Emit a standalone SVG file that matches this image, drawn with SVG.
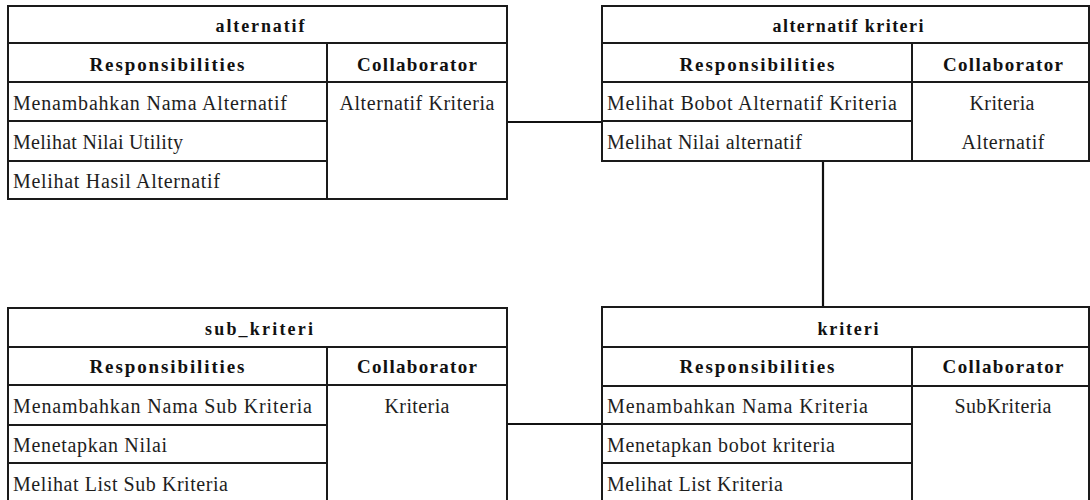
<svg xmlns="http://www.w3.org/2000/svg" width="1090" height="500" viewBox="0 0 1090 500">
<style>
.box{fill:#fff;stroke:#1a1a1a;stroke-width:2}
.ln{stroke:#1a1a1a;stroke-width:2;fill:none}
.conn{stroke:#111;stroke-width:2.2;fill:none}
.t{font-family:"Liberation Serif","Times New Roman",serif;font-size:18px;font-weight:bold;fill:#111;text-anchor:middle}
.h{font-family:"Liberation Serif","Times New Roman",serif;font-size:19px;font-weight:bold;fill:#111;text-anchor:middle}
.r{font-family:"Liberation Serif","Times New Roman",serif;font-size:20px;fill:#1e1e1e}
.c{font-family:"Liberation Serif","Times New Roman",serif;font-size:20px;fill:#1e1e1e;text-anchor:middle}
</style>
<rect width="1090" height="500" fill="#fff"/>
<g id="connectors">
<line class="conn" x1="507" y1="122" x2="602" y2="122"/>
<line class="conn" x1="823" y1="161" x2="823" y2="307"/>
<line class="conn" x1="507" y1="424" x2="602" y2="424"/>
</g>
<g id="alternatif">
<rect class="box" x="8" y="6" width="499" height="193"/>
<path class="ln" d="M8 43H507M8 82H507M8 121H327M8 161H327M327 43V199"/>
<text class="t" x="260" y="32" textLength="89" lengthAdjust="spacing">alternatif</text>
<text class="h" x="167" y="71" textLength="155" lengthAdjust="spacing">Responsibilities</text>
<text class="h" x="417" y="71" textLength="120" lengthAdjust="spacing">Collaborator</text>
<text class="r" x="13" y="110" textLength="274" lengthAdjust="spacing">Menambahkan Nama  Alternatif</text>
<text class="r" x="13" y="149" textLength="170" lengthAdjust="spacing">Melihat Nilai Utility</text>
<text class="r" x="13" y="188" textLength="207" lengthAdjust="spacing">Melihat Hasil Alternatif</text>
<text class="c" x="417" y="110" textLength="155" lengthAdjust="spacing">Alternatif Kriteria</text>
</g>
<g id="alternatif-kriteri">
<rect class="box" x="602" y="6" width="487" height="155"/>
<path class="ln" d="M602 43H1089M602 82H1089M602 121H912M912 43V161"/>
<text class="t" x="848" y="32" textLength="151" lengthAdjust="spacing">alternatif kriteri</text>
<text class="h" x="757" y="71" textLength="155" lengthAdjust="spacing">Responsibilities</text>
<text class="h" x="1003" y="71" textLength="120" lengthAdjust="spacing">Collaborator</text>
<text class="r" x="607" y="110" textLength="290" lengthAdjust="spacing">Melihat Bobot Alternatif  Kriteria</text>
<text class="r" x="607" y="149" textLength="195" lengthAdjust="spacing">Melihat Nilai alternatif</text>
<text class="c" x="1002" y="110" textLength="65" lengthAdjust="spacing">Kriteria</text>
<text class="c" x="1003" y="149" textLength="83" lengthAdjust="spacing">Alternatif</text>
</g>
<g id="sub_kriteri">
<rect class="box" x="8" y="308" width="499" height="195"/>
<path class="ln" d="M8 347H507M8 385H507M8 425H327M8 463H327M327 347V503"/>
<text class="t" x="259" y="335" textLength="108" lengthAdjust="spacing">sub_kriteri</text>
<text class="h" x="167" y="373" textLength="155" lengthAdjust="spacing">Responsibilities</text>
<text class="h" x="417" y="373" textLength="120" lengthAdjust="spacing">Collaborator</text>
<text class="r" x="13" y="413" textLength="299" lengthAdjust="spacing">Menambahkan Nama  Sub Kriteria</text>
<text class="r" x="13" y="452" textLength="154" lengthAdjust="spacing">Menetapkan Nilai</text>
<text class="r" x="13" y="491" textLength="215" lengthAdjust="spacing">Melihat List Sub Kriteria</text>
<text class="c" x="417" y="413" textLength="65" lengthAdjust="spacing">Kriteria</text>
</g>
<g id="kriteri">
<rect class="box" x="602" y="307" width="487" height="196"/>
<path class="ln" d="M602 347H1089M602 386H1089M602 424H912M602 463H912M912 347V503"/>
<text class="t" x="848" y="335" textLength="61" lengthAdjust="spacing">kriteri</text>
<text class="h" x="757" y="373" textLength="155" lengthAdjust="spacing">Responsibilities</text>
<text class="h" x="1003" y="373" textLength="121" lengthAdjust="spacing">Collaborator</text>
<text class="r" x="607" y="413" textLength="261" lengthAdjust="spacing">Menambahkan Nama  Kriteria</text>
<text class="r" x="607" y="452" textLength="228" lengthAdjust="spacing">Menetapkan bobot kriteria</text>
<text class="r" x="607" y="491" textLength="176" lengthAdjust="spacing">Melihat List Kriteria</text>
<text class="c" x="1003" y="413" textLength="97" lengthAdjust="spacing">SubKriteria</text>
</g>
</svg>
